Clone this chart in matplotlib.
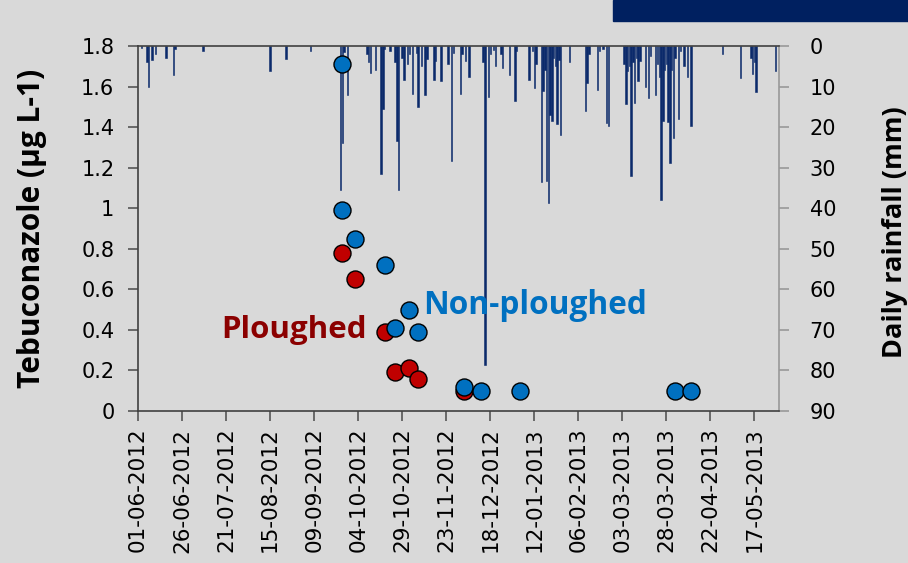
import datetime as dt
import matplotlib.pyplot as plt
import matplotlib.dates as mdates
from matplotlib.patches import Rectangle

season_start = dt.date(2012, 6, 1)

# daily rainfall, days counted from 1 June 2012
rain_day = [2, 5, 6, 8, 10, 16, 20, 21, 37, 75, 84, 98,
            115, 116, 117, 119, 130, 131, 132, 135, 138, 139, 140, 143,
            146, 147, 148, 150, 151, 153, 154, 156, 158, 159, 161, 163,
            164, 168, 169, 172, 176, 178, 179, 183, 184, 186, 188, 196,
            197, 199, 200, 202, 203, 206, 207, 211, 214, 215, 222, 224,
            225, 226, 229, 230, 231, 232, 233, 234, 235, 236, 237, 238,
            239, 240, 245, 254, 255, 256, 261, 262, 264, 266, 267, 276,
            277, 278, 279, 280, 281, 282, 283, 284, 285, 288, 290, 291,
            294, 295, 296, 297, 298, 299, 300, 301, 302, 303, 304, 305,
            307, 308, 310, 312, 314, 332, 342, 348, 349, 350, 351, 362]
rain_mm = [0.4, 4.0, 10.0, 3.4, 2.0, 2.8, 7.1, 0.7, 1.1, 6.1, 3.2, 1.1,
           35.4, 23.9, 1.5, 12.1, 2.0, 4.0, 6.5, 5.8, 31.6, 15.5, 0.7, 1.1,
           4.0, 23.3, 35.4, 2.8, 8.3, 4.4, 2.0, 11.7, 1.6, 15.1, 4.8, 12.1,
           3.2, 8.3, 3.6, 8.7, 4.4, 28.3, 1.6, 11.7, 2.0, 3.6, 7.5, 4.0,
           78.7, 12.5, 2.0, 1.0, 5.0, 2.0, 5.4, 7.1, 13.5, 1.1, 8.3, 1.1,
           10.2, 4.4, 33.6, 11.0, 6.0, 33.2, 38.8, 17.0, 18.4, 3.0, 5.0, 19.2,
           3.5, 21.9, 4.0, 16.0, 9.2, 2.0, 10.8, 1.1, 0.7, 19.0, 19.8, 4.4,
           14.3, 6.1, 5.0, 32.0, 4.0, 13.9, 3.0, 8.7, 3.6, 10.0, 12.8, 2.4,
           12.1, 4.4, 7.5, 38.0, 18.4, 6.0, 4.4, 18.8, 28.9, 6.0, 22.7, 2.8,
           18.0, 1.1, 4.8, 7.5, 19.6, 2.0, 7.9, 2.8, 6.9, 4.0, 11.4, 6.1]

# tebuconazole concentrations (ug/L)
nonploughed_dates = ['2012-09-25', '2012-09-25', '2012-10-02', '2012-10-19',
                     '2012-10-25', '2012-11-02', '2012-11-07', '2012-12-03',
                     '2012-12-13', '2013-01-04', '2013-04-02', '2013-04-11']
nonploughed = [1.71, 0.99, 0.85, 0.72, 0.41, 0.50, 0.39, 0.12, 0.10, 0.10, 0.10, 0.10]
ploughed_dates = ['2012-09-25', '2012-10-02', '2012-10-19', '2012-10-25',
                  '2012-11-02', '2012-11-07', '2012-12-03']
ploughed = [0.78, 0.65, 0.39, 0.19, 0.21, 0.16, 0.10]

conc_ticks = [0, 0.2, 0.4, 0.6, 0.8, 1, 1.2, 1.4, 1.6, 1.8]
conc_labels = ['0', '0.2', '0.4', '0.6', '0.8', '1', '1.2', '1.4', '1.6', '1.8']
rain_ticks = [0, 10, 20, 30, 40, 50, 60, 70, 80, 90]

to_num = lambda s: mdates.date2num(dt.date.fromisoformat(s))
t0 = mdates.date2num(season_start)
bold_font = ['Open Sans', 'DejaVu Sans']

fig = plt.figure(figsize=(9.08, 5.63), dpi=100, facecolor='#d9d9d9')
ax = fig.add_axes([0.152, 0.270, 0.706, 0.648])
ax_rain = ax.twinx()
ax.set_zorder(ax_rain.get_zorder() + 1)
ax.patch.set_visible(False)
ax_rain.set_facecolor('white')

# rainfall hanging from the top (inverted secondary axis)
ax_rain.bar([t0 + d for d in rain_day], rain_mm, width=0.8,
            color='#0b2a6b', edgecolor='#0b2a6b', linewidth=0.4)
ax_rain.set_ylim(90, 0)
ax_rain.set_yticks(rain_ticks)
ax_rain.set_yticklabels([str(v) for v in rain_ticks])

ax.scatter([to_num(s) for s in ploughed_dates], ploughed, s=150,
           color='#c00000', edgecolor='black', linewidth=1.0, zorder=3)
ax.scatter([to_num(s) for s in nonploughed_dates], nonploughed, s=150,
           color='#0070c0', edgecolor='black', linewidth=1.0, zorder=4)

ax.set_ylim(0, 1.8)
ax.set_yticks(conc_ticks)
ax.set_yticklabels(conc_labels)
ax.set_xlim(t0, t0 + 364)
xt = [t0 + 25 * k for k in range(15)]
ax.set_xticks(xt)
ax.set_xticklabels([mdates.num2date(v).strftime('%d-%m-%Y') for v in xt],
                   rotation=90)

for a in (ax, ax_rain):
    a.tick_params(labelsize=15, length=7, width=1.2, color='#555555')
ax.tick_params(axis='x', labelsize=15.5, pad=5)
ax.tick_params(axis='y', pad=10)
ax_rain.tick_params(axis='y', pad=15, color='#999999')

for name, sp in ax.spines.items():
    sp.set_color('#404040')
    sp.set_linewidth(1.2)
ax.spines['right'].set_visible(False)
for name, sp in ax_rain.spines.items():
    sp.set_visible(False)
ax_rain.spines['right'].set_visible(True)
ax_rain.spines['right'].set_color('#999999')
ax_rain.spines['right'].set_linewidth(1.2)

fig.text(32 / 908, 0.595, 'Tebuconazole (µg L-1)', rotation=90, ha='center',
         va='center', family=bold_font, fontweight='bold', fontsize=21.5)
fig.text(895 / 908, 0.588, 'Daily rainfall (mm)', rotation=90, ha='center',
         va='center', family=bold_font, fontweight='bold', fontsize=19.5)

ax.text(to_num('2012-10-09'), 0.40, 'Ploughed', color='#8b0000', ha='right',
        va='center', family=bold_font, fontweight='bold', fontsize=22.5)
ax.text(to_num('2012-11-10'), 0.52, 'Non-ploughed', color='#0070c0', ha='left',
        va='center', family=bold_font, fontweight='bold', fontsize=22.8)

fig.patches.append(Rectangle((613 / 908, 1 - 21 / 563), 295 / 908, 21 / 563,
                             transform=fig.transFigure, color='#002060'))

fig.savefig('out.png', dpi=100, facecolor=fig.get_facecolor())
